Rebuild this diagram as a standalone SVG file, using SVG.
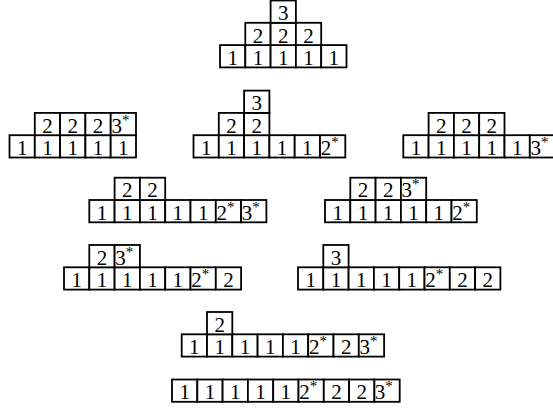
<svg xmlns="http://www.w3.org/2000/svg" width="553" height="409" viewBox="0 0 553 409">
<style>
rect.c{fill:#fff;stroke:#000;stroke-width:1.8}
text{font-family:"Liberation Serif","DejaVu Serif",serif;font-size:21px;fill:#000}
text.m{text-anchor:middle}
tspan.s{font-size:15px}
</style>
<rect width="553" height="409" fill="#fff"/>
<g id="t1">
<rect class="c" x="220" y="45.1" width="25.3" height="22.3"/><rect class="c" x="245.3" y="45.1" width="25.3" height="22.3"/><rect class="c" x="270.6" y="45.1" width="25.3" height="22.3"/><rect class="c" x="295.9" y="45.1" width="25.3" height="22.3"/><rect class="c" x="321.2" y="45.1" width="25.3" height="22.3"/>
<rect class="c" x="245.3" y="22.8" width="25.3" height="22.3"/><rect class="c" x="270.6" y="22.8" width="25.3" height="22.3"/><rect class="c" x="295.9" y="22.8" width="25.3" height="22.3"/>
<rect class="c" x="270.6" y="0.5" width="25.3" height="22.3"/>
<text class="m" x="232.65" y="64.8">1</text><text class="m" x="257.95" y="64.8">1</text><text class="m" x="283.25" y="64.8">1</text><text class="m" x="308.55" y="64.8">1</text><text class="m" x="333.85" y="64.8">1</text>
<text class="m" x="257.95" y="42.5">2</text><text class="m" x="283.25" y="42.5">2</text><text class="m" x="308.55" y="42.5">2</text>
<text class="m" x="283.25" y="20.2">3</text>
</g>
<g id="t2">
<rect class="c" x="9.5" y="135.2" width="25.3" height="22.3"/><rect class="c" x="34.8" y="135.2" width="25.3" height="22.3"/><rect class="c" x="60.1" y="135.2" width="25.3" height="22.3"/><rect class="c" x="85.4" y="135.2" width="25.3" height="22.3"/><rect class="c" x="110.7" y="135.2" width="25.3" height="22.3"/>
<rect class="c" x="34.8" y="112.9" width="25.3" height="22.3"/><rect class="c" x="60.1" y="112.9" width="25.3" height="22.3"/><rect class="c" x="85.4" y="112.9" width="25.3" height="22.3"/><rect class="c" x="110.7" y="112.9" width="25.3" height="22.3"/>
<text class="m" x="22.15" y="154.9">1</text><text class="m" x="47.45" y="154.9">1</text><text class="m" x="72.75" y="154.9">1</text><text class="m" x="98.05" y="154.9">1</text><text class="m" x="123.35" y="154.9">1</text>
<text class="m" x="47.45" y="132.6">2</text><text class="m" x="72.75" y="132.6">2</text><text class="m" x="98.05" y="132.6">2</text>
<text x="111.4" y="132.6">3<tspan class="s" dy="-8">*</tspan></text>
</g>
<g id="t3">
<rect class="c" x="193.5" y="135.2" width="25.3" height="22.3"/><rect class="c" x="218.8" y="135.2" width="25.3" height="22.3"/><rect class="c" x="244.1" y="135.2" width="25.3" height="22.3"/><rect class="c" x="269.4" y="135.2" width="25.3" height="22.3"/><rect class="c" x="294.7" y="135.2" width="25.3" height="22.3"/><rect class="c" x="320" y="135.2" width="25.3" height="22.3"/>
<rect class="c" x="218.8" y="112.9" width="25.3" height="22.3"/><rect class="c" x="244.1" y="112.9" width="25.3" height="22.3"/>
<rect class="c" x="244.1" y="90.6" width="25.3" height="22.3"/>
<text class="m" x="206.15" y="154.9">1</text><text class="m" x="231.45" y="154.9">1</text><text class="m" x="256.75" y="154.9">1</text><text class="m" x="282.05" y="154.9">1</text><text class="m" x="307.35" y="154.9">1</text>
<text x="320.7" y="154.9">2<tspan class="s" dy="-8">*</tspan></text>
<text class="m" x="231.45" y="132.6">2</text><text class="m" x="256.75" y="132.6">2</text>
<text class="m" x="256.75" y="110.3">3</text>
</g>
<g id="t4">
<rect class="c" x="403.3" y="135.2" width="25.3" height="22.3"/><rect class="c" x="428.6" y="135.2" width="25.3" height="22.3"/><rect class="c" x="453.9" y="135.2" width="25.3" height="22.3"/><rect class="c" x="479.2" y="135.2" width="25.3" height="22.3"/><rect class="c" x="504.5" y="135.2" width="25.3" height="22.3"/><rect class="c" x="529.8" y="135.2" width="25.3" height="22.3"/>
<rect class="c" x="428.6" y="112.9" width="25.3" height="22.3"/><rect class="c" x="453.9" y="112.9" width="25.3" height="22.3"/><rect class="c" x="479.2" y="112.9" width="25.3" height="22.3"/>
<text class="m" x="415.95" y="154.9">1</text><text class="m" x="441.25" y="154.9">1</text><text class="m" x="466.55" y="154.9">1</text><text class="m" x="491.85" y="154.9">1</text><text class="m" x="517.15" y="154.9">1</text>
<text x="530.5" y="154.9">3<tspan class="s" dy="-8">*</tspan></text>
<text class="m" x="441.25" y="132.6">2</text><text class="m" x="466.55" y="132.6">2</text><text class="m" x="491.85" y="132.6">2</text>
</g>
<g id="t5">
<rect class="c" x="89.3" y="200" width="25.3" height="22.3"/><rect class="c" x="114.6" y="200" width="25.3" height="22.3"/><rect class="c" x="139.9" y="200" width="25.3" height="22.3"/><rect class="c" x="165.2" y="200" width="25.3" height="22.3"/><rect class="c" x="190.5" y="200" width="25.3" height="22.3"/><rect class="c" x="215.8" y="200" width="25.3" height="22.3"/><rect class="c" x="241.1" y="200" width="25.3" height="22.3"/>
<rect class="c" x="114.6" y="177.7" width="25.3" height="22.3"/><rect class="c" x="139.9" y="177.7" width="25.3" height="22.3"/>
<text class="m" x="101.95" y="219.7">1</text><text class="m" x="127.25" y="219.7">1</text><text class="m" x="152.55" y="219.7">1</text><text class="m" x="177.85" y="219.7">1</text><text class="m" x="203.15" y="219.7">1</text>
<text x="216.5" y="219.7">2<tspan class="s" dy="-8">*</tspan></text>
<text x="241.8" y="219.7">3<tspan class="s" dy="-8">*</tspan></text>
<text class="m" x="127.25" y="197.4">2</text><text class="m" x="152.55" y="197.4">2</text>
</g>
<g id="t6">
<rect class="c" x="325" y="200" width="25.3" height="22.3"/><rect class="c" x="350.3" y="200" width="25.3" height="22.3"/><rect class="c" x="375.6" y="200" width="25.3" height="22.3"/><rect class="c" x="400.9" y="200" width="25.3" height="22.3"/><rect class="c" x="426.2" y="200" width="25.3" height="22.3"/><rect class="c" x="451.5" y="200" width="25.3" height="22.3"/>
<rect class="c" x="350.3" y="177.7" width="25.3" height="22.3"/><rect class="c" x="375.6" y="177.7" width="25.3" height="22.3"/><rect class="c" x="400.9" y="177.7" width="25.3" height="22.3"/>
<text class="m" x="337.65" y="219.7">1</text><text class="m" x="362.95" y="219.7">1</text><text class="m" x="388.25" y="219.7">1</text><text class="m" x="413.55" y="219.7">1</text><text class="m" x="438.85" y="219.7">1</text>
<text x="452.2" y="219.7">2<tspan class="s" dy="-8">*</tspan></text>
<text class="m" x="362.95" y="197.4">2</text><text class="m" x="388.25" y="197.4">2</text>
<text x="401.6" y="197.4">3<tspan class="s" dy="-8">*</tspan></text>
</g>
<g id="t7">
<rect class="c" x="64" y="267.3" width="25.3" height="22.3"/><rect class="c" x="89.3" y="267.3" width="25.3" height="22.3"/><rect class="c" x="114.6" y="267.3" width="25.3" height="22.3"/><rect class="c" x="139.9" y="267.3" width="25.3" height="22.3"/><rect class="c" x="165.2" y="267.3" width="25.3" height="22.3"/><rect class="c" x="190.5" y="267.3" width="25.3" height="22.3"/><rect class="c" x="215.8" y="267.3" width="25.3" height="22.3"/>
<rect class="c" x="89.3" y="245" width="25.3" height="22.3"/><rect class="c" x="114.6" y="245" width="25.3" height="22.3"/>
<text class="m" x="76.65" y="287">1</text><text class="m" x="101.95" y="287">1</text><text class="m" x="127.25" y="287">1</text><text class="m" x="152.55" y="287">1</text><text class="m" x="177.85" y="287">1</text>
<text x="191.2" y="287">2<tspan class="s" dy="-8">*</tspan></text>
<text class="m" x="228.45" y="287">2</text>
<text class="m" x="101.95" y="264.7">2</text>
<text x="115.3" y="264.7">3<tspan class="s" dy="-8">*</tspan></text>
</g>
<g id="t8">
<rect class="c" x="298" y="267.3" width="25.3" height="22.3"/><rect class="c" x="323.3" y="267.3" width="25.3" height="22.3"/><rect class="c" x="348.6" y="267.3" width="25.3" height="22.3"/><rect class="c" x="373.9" y="267.3" width="25.3" height="22.3"/><rect class="c" x="399.2" y="267.3" width="25.3" height="22.3"/><rect class="c" x="424.5" y="267.3" width="25.3" height="22.3"/><rect class="c" x="449.8" y="267.3" width="25.3" height="22.3"/><rect class="c" x="475.1" y="267.3" width="25.3" height="22.3"/>
<rect class="c" x="323.3" y="245" width="25.3" height="22.3"/>
<text class="m" x="310.65" y="287">1</text><text class="m" x="335.95" y="287">1</text><text class="m" x="361.25" y="287">1</text><text class="m" x="386.55" y="287">1</text><text class="m" x="411.85" y="287">1</text>
<text x="425.2" y="287">2<tspan class="s" dy="-8">*</tspan></text>
<text class="m" x="462.45" y="287">2</text><text class="m" x="487.75" y="287">2</text>
<text class="m" x="335.95" y="264.7">3</text>
</g>
<g id="t9">
<rect class="c" x="181.7" y="334.3" width="25.3" height="22.3"/><rect class="c" x="207" y="334.3" width="25.3" height="22.3"/><rect class="c" x="232.3" y="334.3" width="25.3" height="22.3"/><rect class="c" x="257.6" y="334.3" width="25.3" height="22.3"/><rect class="c" x="282.9" y="334.3" width="25.3" height="22.3"/><rect class="c" x="308.2" y="334.3" width="25.3" height="22.3"/><rect class="c" x="333.5" y="334.3" width="25.3" height="22.3"/><rect class="c" x="358.8" y="334.3" width="25.3" height="22.3"/>
<rect class="c" x="207" y="312" width="25.3" height="22.3"/>
<text class="m" x="194.35" y="354">1</text><text class="m" x="219.65" y="354">1</text><text class="m" x="244.95" y="354">1</text><text class="m" x="270.25" y="354">1</text><text class="m" x="295.55" y="354">1</text>
<text x="308.9" y="354">2<tspan class="s" dy="-8">*</tspan></text>
<text class="m" x="346.15" y="354">2</text>
<text x="359.5" y="354">3<tspan class="s" dy="-8">*</tspan></text>
<text class="m" x="219.65" y="331.7">2</text>
</g>
<g id="t10">
<rect class="c" x="172" y="379.5" width="25.3" height="22.3"/><rect class="c" x="197.3" y="379.5" width="25.3" height="22.3"/><rect class="c" x="222.6" y="379.5" width="25.3" height="22.3"/><rect class="c" x="247.9" y="379.5" width="25.3" height="22.3"/><rect class="c" x="273.2" y="379.5" width="25.3" height="22.3"/><rect class="c" x="298.5" y="379.5" width="25.3" height="22.3"/><rect class="c" x="323.8" y="379.5" width="25.3" height="22.3"/><rect class="c" x="349.1" y="379.5" width="25.3" height="22.3"/><rect class="c" x="374.4" y="379.5" width="25.3" height="22.3"/>
<text class="m" x="184.65" y="399.2">1</text><text class="m" x="209.95" y="399.2">1</text><text class="m" x="235.25" y="399.2">1</text><text class="m" x="260.55" y="399.2">1</text><text class="m" x="285.85" y="399.2">1</text>
<text x="299.2" y="399.2">2<tspan class="s" dy="-8">*</tspan></text>
<text class="m" x="336.45" y="399.2">2</text><text class="m" x="361.75" y="399.2">2</text>
<text x="374.7" y="399.2">3<tspan class="s" dy="-8">*</tspan></text>
</g>
</svg>
